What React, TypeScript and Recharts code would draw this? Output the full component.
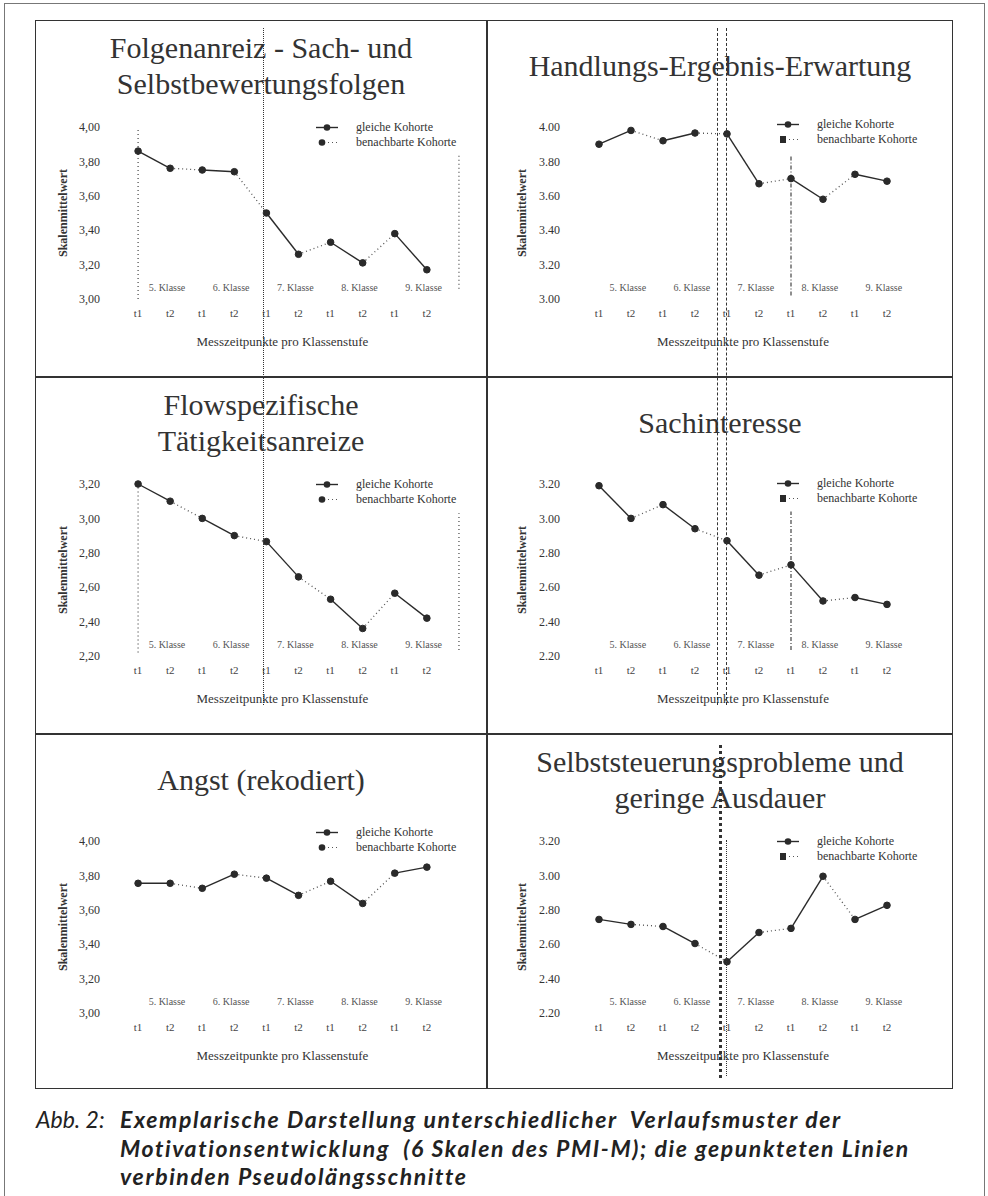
import React from 'react';
import { LineChart, Line, XAxis, YAxis, ReferenceLine, ReferenceDot } from 'recharts';

// ---------- data ----------
const pointIds = [1, 2, 3, 4, 5, 6, 7, 8, 9, 10];
const xTickLabels = ['t1', 't2', 't1', 't2', 't1', 't2', 't1', 't2', 't1', 't2'];
const classLabels = ['5. Klasse', '6. Klasse', '7. Klasse', '8. Klasse', '9. Klasse'];
const legendLabels = ['gleiche Kohorte', 'benachbarte Kohorte'];
const yAxisTitle = 'Skalenmittelwert';
const xAxisTitle = 'Messzeitpunkte pro Klassenstufe';

const folgenanreiz = [3.86, 3.76, 3.75, 3.74, 3.5, 3.26, 3.33, 3.21, 3.38, 3.17];
const handlungErgebnis = [3.9, 3.98, 3.92, 3.965, 3.96, 3.67, 3.7, 3.58, 3.725, 3.685];
const flowAnreize = [3.2, 3.1, 3.0, 2.9, 2.865, 2.66, 2.53, 2.36, 2.565, 2.42];
const sachinteresse = [3.19, 3.0, 3.08, 2.94, 2.87, 2.67, 2.73, 2.52, 2.54, 2.5];
const angst = [3.754, 3.754, 3.725, 3.807, 3.784, 3.684, 3.766, 3.637, 3.813, 3.848];
const selbststeuerung = [2.744, 2.715, 2.703, 2.604, 2.498, 2.668, 2.692, 2.995, 2.744, 2.826];

const ticks300to400 = [3.0, 3.2, 3.4, 3.6, 3.8, 4.0];
const ticks220to320 = [2.2, 2.4, 2.6, 2.8, 3.0, 3.2];

// vertical marker lines inside the panels (data units)
const refsFolgen = [{ x: 1, y1: 3.0, y2: 4.0 }, { x: 11, y1: 3.06, y2: 3.84 }];
const refsHandlung = [{ x: 7, y1: 3.02, y2: 3.84 }];
const refsFlow = [{ x: 1, y1: 2.22, y2: 3.2 }, { x: 11, y1: 2.235, y2: 3.03 }];
const refsSach = [{ x: 7, y1: 2.235, y2: 3.04 }];

const captionLead = 'Abb. 2:';
const captionLines = [
  'Exemplarische Darstellung unterschiedlicher  Verlaufsmuster der',
  'Motivationsentwicklung  (6 Skalen des PMI-M); die gepunkteten Linien',
  'verbinden Pseudolängsschnitte',
];

// ---------- layout ----------
const SERIF = "'Liberation Serif', 'Times New Roman', serif";
const INK = '#2a2a2a';
const CELL_H = 357;
const ROW_TOPS = [20, 377, 734];
const COLS = [
  { x: 35, w: 452, mLeft: 31, yW: 40, mRight: 12, tickMargin: 6, legendX: 281, yTitleX: 28 },
  { x: 487, w: 466, mLeft: 40, yW: 40, mRight: 18, tickMargin: 7, legendX: 290, yTitleX: 35 },
];
const PLOT_TOP = 107;
const PLOT_H = 172;
const XAXIS_H = 30;

const panels = [
  { title: ['Folgenanreiz - Sach- und', 'Selbstbewertungsfolgen'], values: folgenanreiz, ticks: ticks300to400, sep: ',', col: 0, row: 0, legendTop: 100, refs: refsFolgen, legendMarker: 'circle' },
  { title: ['Handlungs-Ergebnis-Erwartung'], values: handlungErgebnis, ticks: ticks300to400, sep: '.', col: 1, row: 0, legendTop: 97, refs: refsHandlung, legendMarker: 'square' },
  { title: ['Flowspezifische', 'Tätigkeitsanreize'], values: flowAnreize, ticks: ticks220to320, sep: ',', col: 0, row: 1, legendTop: 100, refs: refsFlow, legendMarker: 'circle' },
  { title: ['Sachinteresse'], values: sachinteresse, ticks: ticks220to320, sep: '.', col: 1, row: 1, legendTop: 99, refs: refsSach, legendMarker: 'square' },
  { title: ['Angst (rekodiert)'], values: angst, ticks: ticks300to400, sep: ',', col: 0, row: 2, legendTop: 91, refs: [], legendMarker: 'circle' },
  { title: ['Selbststeuerungsprobleme und', 'geringe Ausdauer'], values: selbststeuerung, ticks: ticks220to320, sep: '.', col: 1, row: 2, legendTop: 100, refs: [], legendMarker: 'square' },
];

// decorative fold / marker lines that cross panel borders (page coordinates)
const overlayLines = [
  { left: 263, top: 28, height: 677, width: 1.5, style: 'dotted' },
  { left: 717, top: 28, height: 677, width: 1, style: 'dashed' },
  { left: 726, top: 28, height: 677, width: 1, style: 'dashed' },
  { left: 719, top: 745, height: 333, width: 3, style: 'dotted' },
  { left: 726, top: 840, height: 236, width: 1.5, style: 'dotted' },
];

function buildRows(values: number[]) {
  return values.map((v, i) => {
    const row: Record<string, number | null> = { x: pointIds[i], v };
    for (let k = 0; k < 5; k++) row['s' + k] = Math.floor(i / 2) === k ? v : null;
    for (let k = 0; k < 4; k++) row['d' + k] = i === 2 * k + 1 || i === 2 * k + 2 ? v : null;
    return row;
  });
}

function LegendBox({ top, left, marker }: { top: number; left: number; marker: string }) {
  const rowH = 15;
  return (
    <div style={{ position: 'absolute', top, left, fontFamily: SERIF, fontSize: 12, color: '#333' }}>
      {legendLabels.map((lab, i) => (
        <div key={lab} style={{ display: 'flex', alignItems: 'center', height: rowH }}>
          <svg width={40} height={rowH}>
            {i === 0 ? (
              <g>
                <line x1={0} y1={7.5} x2={22} y2={7.5} stroke={INK} strokeWidth={1.4} />
                <circle cx={11} cy={7.5} r={3.3} fill={INK} />
              </g>
            ) : (
              <g>
                {marker === 'square' ? (
                  <rect x={3} y={4} width={6} height={7} fill={INK} />
                ) : (
                  <circle cx={6} cy={7.5} r={3.3} fill={INK} />
                )}
                <line x1={12} y1={7.5} x2={22} y2={7.5} stroke="#555" strokeWidth={1.2} strokeDasharray="1 3" />
              </g>
            )}
          </svg>
          <span style={{ whiteSpace: 'nowrap' }}>{lab}</span>
        </div>
      ))}
    </div>
  );
}

function Panel({ p }: { p: (typeof panels)[number] }) {
  const c = COLS[p.col];
  const top = ROW_TOPS[p.row];
  const rows = buildRows(p.values);
  const yMin = p.ticks[0];
  const yMax = p.ticks[p.ticks.length - 1];
  const classY = yMin + 0.07 * (yMax - yMin);
  const plotLeft = c.mLeft + c.yW;
  const plotW = c.w - plotLeft - c.mRight;
  const unit = plotW / 11.5;
  const pointsCenter = plotLeft + unit * 5.5;
  const titleLH = 36;
  const titleTop = p.title.length === 2 ? 10 : 46 - titleLH / 2;
  const fmt = (v: number) => v.toFixed(2).replace('.', p.sep);
  return (
    <div style={{ position: 'absolute', left: c.x, top, width: c.w, height: CELL_H }}>
      <LineChart
        width={c.w}
        height={CELL_H}
        data={rows}
        margin={{ top: PLOT_TOP, right: c.mRight, bottom: CELL_H - PLOT_TOP - PLOT_H - XAXIS_H, left: c.mLeft }}
      >
        <XAxis
          dataKey="x"
          type="number"
          domain={[0, 11.5]}
          ticks={pointIds}
          tickFormatter={(v: number) => xTickLabels[v - 1] ?? ''}
          axisLine={false}
          tickLine={false}
          tickSize={0}
          tickMargin={10}
          height={XAXIS_H}
          interval={0}
          tick={{ fontSize: 11, fontFamily: SERIF, fill: '#444' }}
        />
        <YAxis
          type="number"
          domain={[yMin, yMax]}
          ticks={p.ticks}
          tickFormatter={fmt}
          axisLine={false}
          tickLine={false}
          tickSize={0}
          tickMargin={c.tickMargin}
          width={c.yW}
          interval={0}
          tick={{ fontSize: 12, fontFamily: SERIF, fill: '#333' }}
        />
        {p.refs.map((r, i) => (
          <ReferenceLine
            key={'r' + i}
            segment={[{ x: r.x, y: r.y1 }, { x: r.x, y: r.y2 }]}
            stroke="#444"
            strokeWidth={1.2}
            strokeDasharray={p.col === 0 ? '1 3' : '4 2 1 2'}
            ifOverflow="visible"
          />
        ))}
        {classLabels.map((lab, k) => (
          <ReferenceDot
            key={'c' + k}
            x={1.9 + 2 * k}
            y={classY}
            r={0}
            fill="none"
            stroke="none"
            ifOverflow="visible"
            label={{ value: lab, position: 'center', fontSize: 10, fontFamily: SERIF, fill: '#555' }}
          />
        ))}
        {[0, 1, 2, 3].map((k) => (
          <Line key={'d' + k} dataKey={'d' + k} stroke="#555" strokeWidth={1.3} strokeDasharray="1 3" dot={false} isAnimationActive={false} />
        ))}
        {[0, 1, 2, 3, 4].map((k) => (
          <Line key={'s' + k} dataKey={'s' + k} stroke={INK} strokeWidth={1.4} dot={false} isAnimationActive={false} />
        ))}
        <Line dataKey="v" stroke="none" strokeWidth={0} dot={{ r: 3.3, fill: INK, stroke: INK, strokeWidth: 1 }} isAnimationActive={false} />
      </LineChart>
      <div
        style={{
          position: 'absolute',
          left: 0,
          width: c.w,
          top: titleTop,
          textAlign: 'center',
          fontFamily: SERIF,
          fontSize: 30,
          lineHeight: titleLH + 'px',
          color: '#333',
          whiteSpace: 'nowrap',
        }}
      >
        {p.title.map((t) => (
          <div key={t}>{t}</div>
        ))}
      </div>
      <div
        style={{
          position: 'absolute',
          left: c.yTitleX - 60,
          top: PLOT_TOP + PLOT_H / 2 - 8,
          width: 120,
          height: 16,
          textAlign: 'center',
          transform: 'rotate(-90deg)',
          fontFamily: SERIF,
          fontSize: 12,
          fontWeight: 'bold',
          color: '#333',
          lineHeight: '16px',
          whiteSpace: 'nowrap',
        }}
      >
        {yAxisTitle}
      </div>
      <div
        style={{
          position: 'absolute',
          left: pointsCenter - 130,
          width: 260,
          top: 322 - 9,
          textAlign: 'center',
          fontFamily: SERIF,
          fontSize: 13,
          lineHeight: '18px',
          color: '#333',
          whiteSpace: 'nowrap',
        }}
      >
        {xAxisTitle}
      </div>
      <LegendBox top={p.legendTop} left={c.legendX} marker={p.legendMarker} />
    </div>
  );
}

export default function App() {
  return (
    <div style={{ position: 'absolute', left: 0, top: 0, width: 988, height: 1196, background: '#fff', overflow: 'hidden' }}>
      <div
        style={{
          position: 'absolute',
          left: 4,
          top: 3,
          width: 981,
          height: 1200,
          borderLeft: '1px solid #777',
          borderRight: '1px solid #777',
          borderTop: '1px solid #777',
          boxSizing: 'border-box',
        }}
      />
      {panels.map((p, i) => (
        <Panel key={i} p={p} />
      ))}
      {/* panel grid */}
      <div style={{ position: 'absolute', left: 35, top: 20, width: 918, height: 1069, border: '1.5px solid #333', boxSizing: 'border-box' }} />
      <div style={{ position: 'absolute', left: 486, top: 20, width: 1.5, height: 1069, background: '#333' }} />
      <div style={{ position: 'absolute', left: 35, top: 376, width: 918, height: 1.5, background: '#333' }} />
      <div style={{ position: 'absolute', left: 35, top: 733, width: 918, height: 1.5, background: '#333' }} />
      {overlayLines.map((l, i) => (
        <div
          key={i}
          style={{ position: 'absolute', left: l.left, top: l.top, height: l.height, width: 0, borderLeft: `${l.width}px ${l.style} #333` }}
        />
      ))}
      {/* caption */}
      <div
        style={{
          position: 'absolute',
          left: 36,
          top: 1105,
          display: 'flex',
          fontFamily: "Lato, 'Open Sans', sans-serif",
          fontStyle: 'italic',
          fontSize: 23,
          lineHeight: '28.5px',
          color: '#222',
        }}
      >
        <div style={{ width: 84, whiteSpace: 'pre' }}>{captionLead}</div>
        <div style={{ fontWeight: 'bold', whiteSpace: 'pre', letterSpacing: 1.6 }}>
          {captionLines.map((l) => (
            <div key={l}>{l}</div>
          ))}
        </div>
      </div>
    </div>
  );
}
